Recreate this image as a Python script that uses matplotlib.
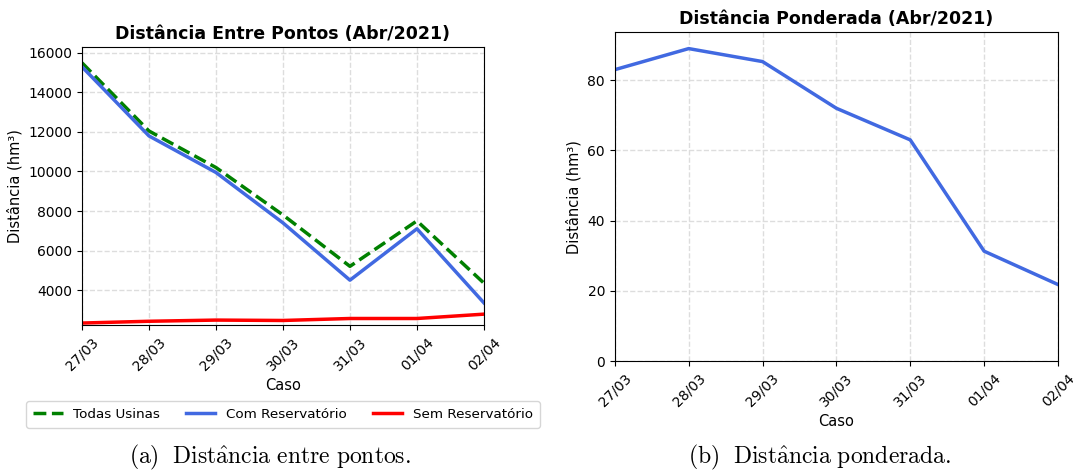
import matplotlib.pyplot as plt

plt.rcParams['mathtext.fontset'] = 'cm'
plt.rcParams['font.family'] = ['DejaVu Sans']

casos = ['27/03', '28/03', '29/03', '30/03', '31/03', '01/04', '02/04']

# distancia entre pontos (hm3)
todas_usinas = [15500, 12050, 10200, 7800, 5200, 7500, 4350]
com_reserv = [15300, 11800, 9950, 7400, 4500, 7100, 3350]
sem_reserv = [2330, 2420, 2480, 2460, 2560, 2560, 2780]

# distancia ponderada (hm3)
ponderada = [83, 89, 85.3, 72, 63, 31.3, 21.8]

fig = plt.figure(figsize=(10.73, 4.72), dpi=100)
ax1 = fig.add_axes([0.0764, 0.3114, 0.3746, 0.589])
ax2 = fig.add_axes([0.573, 0.235, 0.413, 0.697])

x = list(range(len(casos)))

ax1.plot(x, todas_usinas, '--', color='green', lw=2.5, label='Todas Usinas')
ax1.plot(x, com_reserv, '-', color='royalblue', lw=2.5, label='Com Reservatório')
ax1.plot(x, sem_reserv, '-', color='red', lw=2.5, label='Sem Reservatório')
ax1.set_title('Distância Entre Pontos (Abr/2021)', fontweight='bold', fontsize=12.5)
ax1.set_xlabel('Caso', fontsize=10.5)
ax1.set_ylabel('Distância (hm³)', fontsize=10.5)
ax1.set_xlim(0, len(casos) - 1)
ax1.set_ylim(2230, 16300)
ax1.set_yticks([4000, 6000, 8000, 10000, 12000, 14000, 16000])
ax1.legend(loc='upper center', bbox_to_anchor=(0.5, -0.25), ncol=3, fontsize=9.7,
           handlelength=2.2, columnspacing=1.9, fancybox=True, shadow=False,
           borderpad=0.5)

ax2.plot(x, ponderada, '-', color='royalblue', lw=2.5)
ax2.set_title('Distância Ponderada (Abr/2021)', fontweight='bold', fontsize=12.5)
ax2.set_xlabel('Caso', fontsize=10.5)
ax2.set_ylabel('Distância (hm³)', fontsize=10.5)
ax2.set_xlim(0, len(casos) - 1)
ax2.set_ylim(0, 93.7)
ax2.set_yticks([0, 20, 40, 60, 80])

for ax in (ax1, ax2):
    ax.set_xticks(x)
    ax.set_xticklabels(casos, rotation=45, fontsize=10)
    ax.tick_params(axis='y', labelsize=10)
    ax.grid(True, linestyle='--', color='#dddddd', lw=1)

fig.text(0.252, 0.018, r'$\mathrm{(a)\ \ Dist\hat{a}ncia\ entre\ pontos.}$', ha='center', fontsize=17)
fig.text(0.764, 0.018, r'$\mathrm{(b)\ \ Dist\hat{a}ncia\ ponderada.}$', ha='center', fontsize=17)

fig.savefig('out.png', dpi=100)
